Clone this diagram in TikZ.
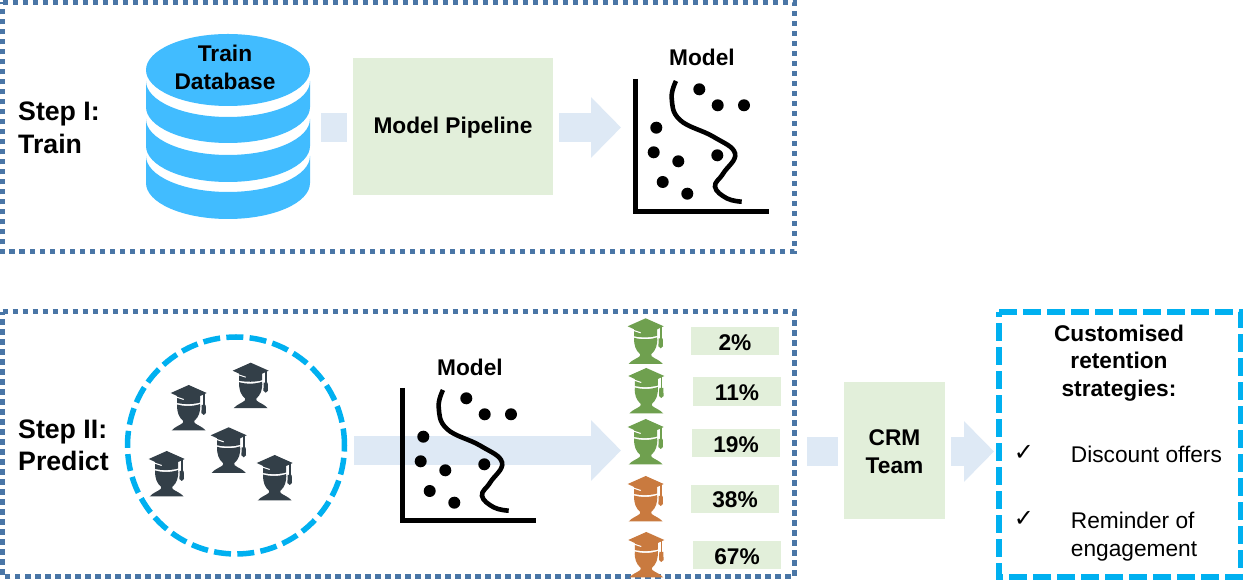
\documentclass[tikz,border=0pt]{standalone}
\usepackage{fontspec}
\setmainfont{Liberation Sans}
\newfontfamily\checkfont{DejaVu Sans}
\usetikzlibrary{arrows.meta}
\definecolor{framecol}{HTML}{4A76A6}
\definecolor{skycol}{HTML}{00B0F0}
\definecolor{dbcol}{HTML}{41BCFF}
\definecolor{boxcol}{HTML}{E2EFDA}
\definecolor{arrowcol}{HTML}{DEE9F5}
\definecolor{darkcol}{HTML}{333F48}
\definecolor{greencol}{HTML}{6FA04F}
\definecolor{orangecol}{HTML}{C97A3F}
\newcommand{\sink}[1]{\raisebox{-1.2pt}[\height][\depth]{#1}}
\tikzset{
  stepframe/.style={draw=framecol,line width=5pt,dash pattern=on 5.5pt off 4.5pt},
  skyline/.style={draw=skycol,line width=5.5pt,dash pattern=on 18pt off 6pt},
  greenbox/.style={fill=boxcol,inner sep=0pt,align=center,font=\fontsize{22.7}{28}\selectfont\bfseries},
  bigtext/.style={inner sep=0pt,align=left,font=\fontsize{26.7}{32.5}\selectfont\bfseries},
  headtext/.style={inner sep=0pt,align=center,font=\fontsize{22.7}{27.5}\selectfont\bfseries},
  plaintext/.style={inner sep=0pt,align=left,font=\fontsize{22.7}{28}\selectfont},
  checktext/.style={inner sep=0pt,font=\fontsize{24}{24}\selectfont\checkfont},
  flowbar/.style={draw=arrowcol,line width=29pt},
  flowarrow/.style={flowbar,-{Triangle[length=30pt,width=59pt]}},
  pics/student/.style={code={
    % shoulders and head
    \fill[#1] (6.5,-19.5) .. controls (13,-21.5) and (23,-21.5) .. (29.5,-19)
      .. controls (30,-27) and (28,-32) .. (23.5,-36) -- (24,-38)
      .. controls (27,-40.5) and (31.5,-41.5) .. (35,-45.5) -- (1,-45.5)
      .. controls (4.5,-41.5) and (9,-40.5) .. (12,-38) -- (12.5,-36)
      .. controls (8,-32) and (6,-27) .. (6.5,-19.5) -- cycle;
    % cap
    \fill[#1] (0,-8) -- (18,0) -- (36,-8) -- (29.5,-11) -- (29.5,-17.5)
      .. controls (23,-19.5) and (13,-19.5) .. (6.5,-18) -- (6.5,-11) -- cycle;
    \draw[white,line width=1pt] (5.5,-12) -- (13,-14.5);
    % tassel
    \draw[#1,line width=1.6pt] (33,-8.5) -- (33,-22);
    \fill[#1] (31,-20) -- (35,-20) -- (35.3,-28) -- (33,-30) -- (30.7,-28) -- cycle;
  }},
  pics/modelplot/.style={code={
    \draw[black,line width=5pt] (0,133) -- (0,0) -- (134,0);
    \draw[black,line width=4.6pt] plot[smooth,tension=0.7] coordinates {(41,131) (36.7,113.7) (45,92) (78.3,75.3) (100,58.7) (88.3,38.7) (80,25.3) (91.7,13.7) (106.7,10.3)};
    \foreach \x/\y in {64.3/122.7,82.7/106.7,109/106.7,21.3/84.3,18.7/59.7,43.3/50.7,82.3/56.7,27.7/30,52.3/18.3}
      \fill[black] (\x,\y) circle (6);
  }}
}
\begin{document}
\begin{tikzpicture}[x=1pt,y=1pt]
\useasboundingbox (0,0) rectangle (1243,583);
\fill[white] (0,0) rectangle (1243,583);

% frames
\draw[stepframe] (2.5,580.5) -- (794,580.5) -- (794,331) -- (2.5,331) -- cycle;
\draw[stepframe] (2.5,271) -- (794,271) -- (794,6) -- (2.5,6) -- cycle;

% step one
\node[bigtext,anchor=west] (stepone) at (18,455) {Step I:\\Train};
\foreach \t/\b in {427/400,464/437,502/476}
  \fill[dbcol] (146,\t) -- (146,\b) arc[start angle=180,end angle=360,x radius=82,y radius=36] -- (310,\t) arc[start angle=0,end angle=-180,x radius=82,y radius=36] -- cycle;
\fill[dbcol] (228,513) ellipse (82 and 36);
\node[headtext] (traindb) at (225,515.5) {Train\\Database};
\node[greenbox,minimum width=200pt,minimum height=137pt] (pipeline) at (453,456.5) {\sink{Model Pipeline}};
\coordinate (dbout) at (321,455.5);
\coordinate (plotin) at (621,455.5);
\draw[flowbar] (dbout) -- ([xshift=-6pt,yshift=-1pt]pipeline.west);
\draw[flowarrow] ([xshift=6pt,yshift=-1pt]pipeline.east) -- (plotin);
\node[headtext] (modelone) at (702,526) {Model};
\pic at (635,371) {modelplot};

% step two
\node[bigtext,anchor=west] (steptwo) at (18,137.5) {Step II:\\Predict};
\draw[skycol,line width=5.5pt,dash pattern=on 17pt off 6.3pt] (236,137.5) circle (108.5);
\foreach \x/\y in {232.7/220.3,170.7/198,210.7/155.7,148.7/132,256.7/128}
  \pic at (\x,\y) {student=darkcol};
\coordinate (crowdout) at (354,132.5);
\coordinate (scoresin) at (621,132.5);
\draw[flowarrow] (crowdout) -- (scoresin);
\node[headtext] (modeltwo) at (470,216) {Model};
\pic at (402,62) {modelplot};

% scores
\foreach \x/\y/\c in {627.7/264.7/greencol,628.3/215/greencol,627.7/164/greencol,627.7/107/orangecol,628.3/51/orangecol}
  \pic at (\x,\y) {student=\c};
\foreach \n/\x/\y/\h/\v in {a/735/242/28/2\%,b/737/191.5/29/11\%,c/736/140/28/19\%,d/735/84/28/38\%,e/737/28/28/67\%}
  \node[greenbox,minimum width=88pt,minimum height=\h pt] (score\n) at (\x,\y) {\sink{\v}};

% crm team
\node[greenbox,minimum width=101pt,minimum height=137pt] (crm) at (894.5,132.5) {\sink{CRM}\\\sink{Team}};
\coordinate (crmin) at (807,131.5);
\coordinate (planin) at (994,131.5);
\draw[flowbar] (crmin) -- ([xshift=-6pt,yshift=-1pt]crm.west);
\draw[flowarrow] ([xshift=6pt,yshift=-1pt]crm.east) -- (planin);

% strategies
\draw[skyline] (999,271) -- (1240.5,271) -- (1240.5,6) -- (999,6) -- cycle;
\node[headtext] (plantitle) at (1119,220) {Customised\\retention\\strategies:};
\node[checktext] (checkone) at (1024,130) {✓};
\node[plaintext,anchor=west] (planone) at (1070.7,129) {Discount offers};
\node[checktext] (checktwo) at (1024,64.5) {✓};
\node[plaintext,anchor=west] (plantwo) at (1070.7,46) {Reminder of\\engagement};
\end{tikzpicture}
\end{document}
